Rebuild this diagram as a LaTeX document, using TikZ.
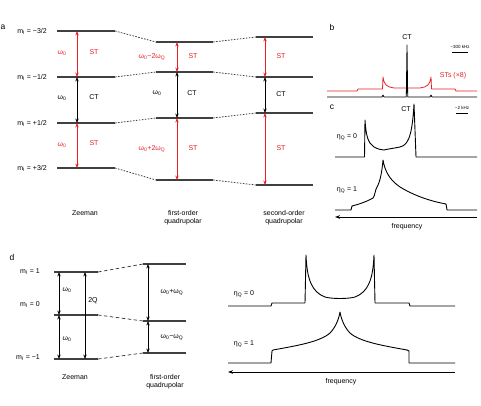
\documentclass[tikz,border=0pt]{standalone}
\usepackage{fontspec}
\setmainfont{Liberation Sans}
\usetikzlibrary{arrows.meta}
\definecolor{stred}{RGB}{232,30,37}
\tikzset{
  level/.style={line width=1.1pt, black!75},
  link/.style={line width=0.8pt, black!75, dash pattern=on 1.6pt off 1.4pt},
  dlink/.style={line width=0.7pt, black!80, dash pattern=on 3.5pt off 2.5pt},
  tran/.style={line width=0.7pt, {Stealth[length=4.5pt,width=3.4pt]}-{Stealth[length=4.5pt,width=3.4pt]}},
  lbl/.style={font=\fontsize{7}{8}\selectfont, inner sep=0pt},
  tiny/.style={font=\fontsize{4.5}{5}\selectfont, inner sep=0pt},
  panel/.style={font=\fontsize{8.5}{9}\selectfont, inner sep=0pt},
  spec/.style={line width=0.9pt, line join=round},
}
\begin{document}
\begin{tikzpicture}[x=1pt,y=-1pt]
\useasboundingbox (0,0) rectangle (481,406);

% a: energy levels
\node[panel] (pa) at (3,27) {a};
\foreach \n/\yz/\yf/\ys in {1/31/42/37, 2/77/72/77, 3/123/118/113, 4/168/180/185} {
  \coordinate (z\n l) at (57,\yz);  \coordinate (z\n r) at (115,\yz);
  \coordinate (f\n l) at (156,\yf); \coordinate (f\n r) at (213,\yf);
  \coordinate (s\n l) at (256,\ys); \coordinate (s\n r) at (313,\ys);
}
\foreach \n in {1,...,4} {
  \draw[level] (z\n l) -- (z\n r);
  \draw[level] (f\n l) -- (f\n r);
  \draw[level] (s\n l) -- (s\n r);
  \draw[link] (z\n r) -- (f\n l);
  \draw[link] (f\n r) -- (s\n l);
}
\coordinate (za) at (77,0);
\coordinate (fa) at (177,0);
\coordinate (sa) at (265,0);
\draw[tran, stred] (za |- z1l) -- (za |- z2l);
\draw[tran] (za |- z2l) -- (za |- z3l);
\draw[tran, stred] (za |- z3l) -- (za |- z4l);
\draw[tran, stred] (fa |- f1l) -- (fa |- f2l);
\draw[tran] (fa |- f2l) -- (fa |- f3l);
\draw[tran, stred] (fa |- f3l) -- (fa |- f4l);
\draw[tran, stred] (sa |- s1l) -- (sa |- s2l);
\draw[tran] (sa |- s2l) -- (sa |- s3l);
\draw[tran, stred] (sa |- s3l) -- (sa |- s4l);

\node[lbl, anchor=east] (m1) at (47,31) {m\textsubscript{I} = −3/2};
\node[lbl, anchor=east] (m2) at (47,77) {m\textsubscript{I} = −1/2};
\node[lbl, anchor=east] (m3) at (47,123) {m\textsubscript{I} = +1/2};
\node[lbl, anchor=east] (m4) at (47,168) {m\textsubscript{I} = +3/2};

\node[lbl, stred] (zw1) at (62,53) {ω\textsubscript{0}};
\node[lbl, stred] (zst1) at (94,52) {ST};
\node[lbl] (zw2) at (62,98) {ω\textsubscript{0}};
\node[lbl] (zct) at (94,97) {CT};
\node[lbl, stred] (zw3) at (62,145) {ω\textsubscript{0}};
\node[lbl, stred] (zst3) at (94,143) {ST};

\node[lbl, stred] (fw1) at (152,57) {ω\textsubscript{0}−2ω\textsubscript{Q}};
\node[lbl, stred] (fst1) at (193,56) {ST};
\node[lbl] (fw2) at (157,93) {ω\textsubscript{0}};
\node[lbl] (fct) at (192,93) {CT};
\node[lbl, stred] (fw3) at (152,149) {ω\textsubscript{0}+2ω\textsubscript{Q}};
\node[lbl, stred] (fst3) at (193,148) {ST};

\node[lbl, stred] (sst1) at (281,56) {ST};
\node[lbl] (sct) at (281,94) {CT};
\node[lbl, stred] (sst3) at (281,148) {ST};

\node[lbl] (zname) at (85,213) {Zeeman};
\node[lbl, align=center] (fname) at (183,218) {first-order\\quadrupolar};
\node[lbl, align=center] (sname) at (284,218) {second-order\\quadrupolar};

% b: static spectrum
\node[panel] (pb) at (332,27) {b};
\node[lbl] (bct) at (407,37) {CT};
\node[tiny] (bscale) at (460,47) {\textasciitilde300 kHz};
\coordinate (bs1) at (452,52); \coordinate (bs2) at (468,52);
\draw[line width=0.6pt] (bs1) -- (bs2);
\node[lbl, stred] (bsts) at (453,76) {STs (×8)};
\draw[spec, stred, line width=0.8pt] (327,91) -- (357,91) -- (358,89) -- (382.5,89) -- (383,77)
  .. controls (384,85) and (387,87) .. (394,88) -- (420,88)
  .. controls (427,87) and (430,85) .. (431,77) -- (431.5,89) -- (455,89) -- (456,91) -- (477,91);
\draw[spec, line width=0.8pt] (327,97) -- (382,97) -- (383,95) -- (384,97) -- (406.3,97) -- (407,45)
  -- (407.7,97) -- (430,97) -- (431,95) -- (432,97) -- (477,97);

% c: CT line shapes
\node[panel] (pc) at (332,107) {c};
\node[lbl] (cct) at (406,109) {CT};
\node[tiny] (cscale) at (462,108) {\textasciitilde2 kHz};
\coordinate (cs1) at (456,113); \coordinate (cs2) at (468,113);
\draw[line width=0.6pt] (cs1) -- (cs2);
\node[lbl] (ceta0) at (347,137) {η\textsubscript{Q} = 0};
\node[lbl] (ceta1) at (347,190) {η\textsubscript{Q} = 1};
\draw[spec] (335,157) -- (364.5,157) -- (365,120)
  .. controls (366,136) and (368,143) .. (374,147)
  .. controls (378,149) and (381,150) .. (384,150)
  .. controls (388,149) and (395,148) .. (400,147)
  .. controls (407,145) and (412,140) .. (414,104) -- (416,157) -- (477,157);
\draw[spec] (335,210) -- (351,210) -- (352,206)
  .. controls (360,204) and (368,201) .. (373,198)
  .. controls (375,196) and (375,190) .. (377,187)
  .. controls (380,182) and (382,172) .. (383,160)
  .. controls (385,172) and (390,180) .. (400,187)
  .. controls (415,196) and (430,201) .. (446,204) -- (447,210) -- (477,210);
\coordinate (cf1) at (477,217); \coordinate (cf2) at (335,217);
\draw[line width=0.8pt, -{Stealth[length=5pt,width=3.6pt]}] (cf1) -- (cf2);
\node[lbl] (cfreq) at (407,227) {frequency};

% d: spin-1 levels
\node[panel] (pd) at (12,257) {d};
\foreach \n/\yz/\yf in {1/272/264, 2/315/321, 3/359/353} {
  \coordinate (dz\n l) at (54,\yz);  \coordinate (dz\n r) at (98,\yz);
  \coordinate (df\n l) at (143,\yf); \coordinate (df\n r) at (186,\yf);
}
\foreach \n in {1,2,3} {
  \draw[level] (dz\n l) -- (dz\n r);
  \draw[level] (df\n l) -- (df\n r);
  \draw[dlink] (dz\n r) -- (df\n l);
}
\coordinate (da) at (59,0);
\coordinate (dq) at (85,0);
\coordinate (dfa) at (148,0);
\draw[tran] (da |- dz1l) -- (da |- dz2l);
\draw[tran] (da |- dz2l) -- (da |- dz3l);
\draw[tran] (dq |- dz1l) -- (dq |- dz3l);
\draw[tran] (dfa |- df1l) -- (dfa |- df2l);
\draw[tran] (dfa |- df2l) -- (dfa |- df3l);

\node[lbl, anchor=east] (dm1) at (40,272) {m\textsubscript{I} = 1};
\node[lbl, anchor=east] (dm2) at (40,305) {m\textsubscript{I} = 0};
\node[lbl, anchor=east] (dm3) at (40,358) {m\textsubscript{I} = −1};
\node[lbl] (dw1) at (67,290) {ω\textsubscript{0}};
\node[lbl] (dw2) at (67,339) {ω\textsubscript{0}};
\node[lbl] (d2q) at (93,301) {2Q};
\node[lbl] (dfw1) at (172,292) {ω\textsubscript{0}+ω\textsubscript{Q}};
\node[lbl] (dfw2) at (172,338) {ω\textsubscript{0}−ω\textsubscript{Q}};
\node[lbl] (dzname) at (75,377) {Zeeman};
\node[lbl, align=center] (dfname) at (165,382) {first-order\\quadrupolar};

% d: spectra
\node[lbl] (deta0) at (244,294) {η\textsubscript{Q} = 0};
\node[lbl] (deta1) at (244,344) {η\textsubscript{Q} = 1};
\draw[spec] (228,306) -- (271,306) -- (272,303) -- (305,303) -- (306,255)
  .. controls (307,280) and (312,292) .. (325,297)
  .. controls (332,299) and (348,299) .. (355,297)
  .. controls (368,292) and (373,280) .. (374,255) -- (375,303) -- (409,303) -- (410,306) -- (455,306);
\draw[spec] (228,363) -- (271,363) -- (272,351) -- (273,350)
  .. controls (295,346) and (320,342) .. (330,333)
  .. controls (336,327) and (339,318) .. (340,312)
  .. controls (341,318) and (344,327) .. (350,333)
  .. controls (360,342) and (385,346) .. (407,350) -- (409,351) -- (409,363) -- (455,363);
\coordinate (df1) at (455,372); \coordinate (df2) at (228,372);
\draw[line width=0.8pt, -{Stealth[length=5pt,width=3.6pt]}] (df1) -- (df2);
\node[lbl] (dfreq) at (341,382) {frequency};
\end{tikzpicture}
\end{document}
